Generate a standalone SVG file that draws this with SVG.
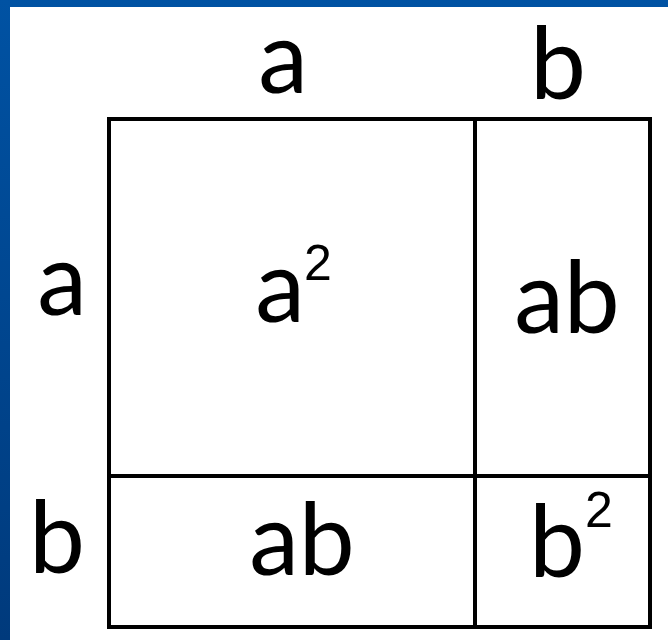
<svg xmlns="http://www.w3.org/2000/svg" width="668" height="640" viewBox="0 0 668 640">
<defs>
<linearGradient id="bg" x1="0" y1="0" x2="0" y2="1">
<stop offset="0" stop-color="#0052a3"/>
<stop offset="1" stop-color="#003a7c"/>
</linearGradient>
<style>
.t{font-family:Lato,"Liberation Sans",sans-serif;font-size:100px;fill:#000;text-anchor:middle}
.s{font-family:"Liberation Sans",Arial,sans-serif;font-size:50px;fill:#000;text-anchor:middle}
.ln{stroke:#000;stroke-width:4;fill:none}
</style>
</defs>
<rect x="0" y="0" width="668" height="640" fill="url(#bg)"/>
<rect x="10" y="7" width="658" height="633" fill="#fff"/>
<g id="connectors">
<rect class="ln" x="109" y="119" width="541" height="508"/>
<line class="ln" x1="475" y1="119" x2="475" y2="627"/>
<line class="ln" x1="109" y1="476" x2="650" y2="476"/>
</g>
<g id="label-top-a"><text class="t" x="283" y="93">a</text></g>
<g id="label-top-b"><text class="t" x="558" y="99">b</text></g>
<g id="label-left-a"><text class="t" x="62" y="315">a</text></g>
<g id="label-left-b"><text class="t" x="57" y="573">b</text></g>
<g id="cell-a2"><text class="t" x="280" y="322">a</text><text class="s" x="318" y="280">2</text></g>
<g id="cell-ab-right"><text class="t" x="567" y="333">ab</text></g>
<g id="cell-ab-bottom"><text class="t" x="302" y="575">ab</text></g>
<g id="cell-b2"><text class="t" x="557" y="577">b</text><text class="s" x="599" y="527">2</text></g>
</svg>
